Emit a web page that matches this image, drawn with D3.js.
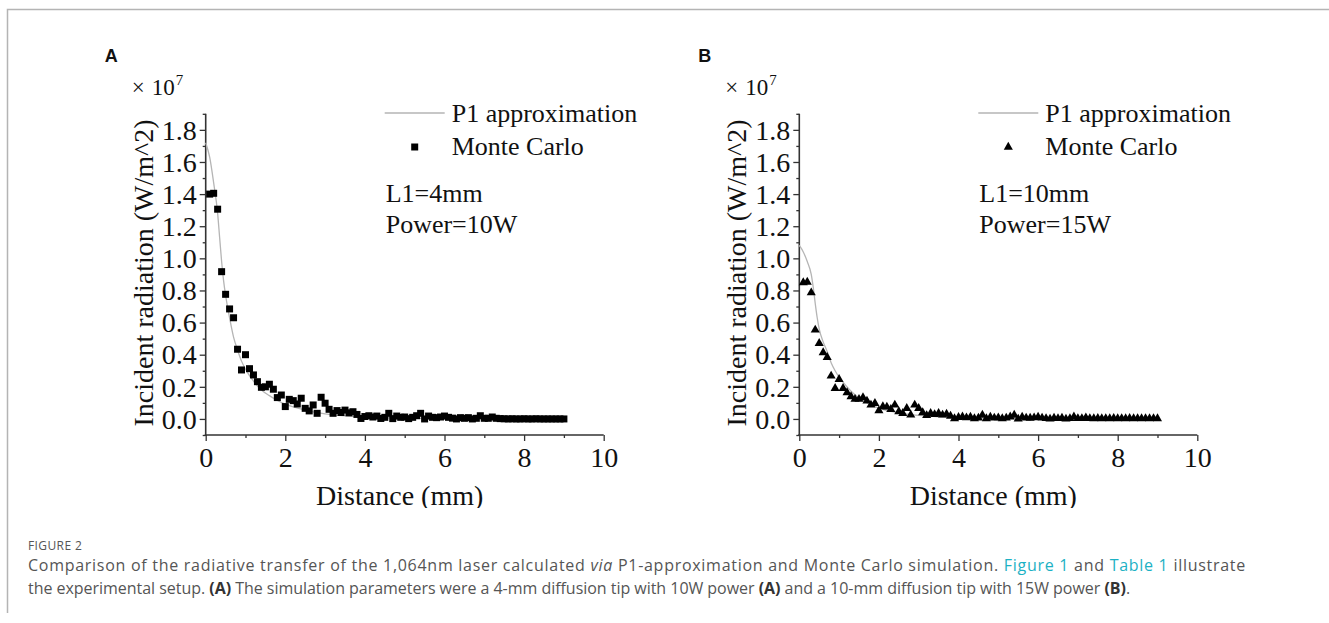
<!DOCTYPE html>
<html>
<head>
<meta charset="utf-8">
<script src="https://cdnjs.cloudflare.com/ajax/libs/d3/7.8.5/d3.min.js"></script>
<style>
    html, body { margin: 0; padding: 0; background: #fff; }
    svg { display: block; }
</style>
</head>
<body>
<svg id="fig" width="1329" height="623"></svg>
<script>
// radiative transfer figure - P1 vs Monte Carlo

// distance grid of the Monte Carlo samples (mm)
const mcDistance = [0.1, 0.2, 0.3, 0.4, 0.5, 0.6, 0.7, 0.8, 0.9, 1.0,
    1.1, 1.2, 1.3, 1.4, 1.5, 1.6, 1.7, 1.8, 1.9, 2.0,
    2.1, 2.2, 2.3, 2.4, 2.5, 2.6, 2.7, 2.8, 2.9, 3.0,
    3.1, 3.2, 3.3, 3.4, 3.5, 3.6, 3.7, 3.8, 3.9, 4.0,
    4.1, 4.2, 4.3, 4.4, 4.5, 4.6, 4.7, 4.8, 4.9, 5.0,
    5.1, 5.2, 5.3, 5.4, 5.5, 5.6, 5.7, 5.8, 5.9, 6.0,
    6.1, 6.2, 6.3, 6.4, 6.5, 6.6, 6.7, 6.8, 6.9, 7.0,
    7.1, 7.2, 7.3, 7.4, 7.5, 7.6, 7.7, 7.8, 7.9, 8.0,
    8.1, 8.2, 8.3, 8.4, 8.5, 8.6, 8.7, 8.8, 8.9, 9.0];

// panel A : L1=4mm, 10W (x 1e7 W/m^2)
const mcA = [1.400, 1.405, 1.306, 0.917, 0.776, 0.685, 0.630, 0.434, 0.305, 0.400,
    0.313, 0.274, 0.232, 0.197, 0.200, 0.216, 0.185, 0.133, 0.149, 0.077,
    0.122, 0.114, 0.093, 0.129, 0.066, 0.050, 0.087, 0.035, 0.135, 0.098,
    0.060, 0.035, 0.052, 0.040, 0.055, 0.038, 0.045, 0.028, 0.003, 0.015,
    0.020, 0.012, 0.018, 0.003, 0.010, 0.035, 0.002, 0.018, 0.010, 0.012,
    0.002, 0.010, 0.020, 0.035, 0.000, 0.018, 0.010, 0.008, 0.012, 0.018,
    0.010, 0.005, 0.000, 0.008, 0.004, 0.008, 0.000, 0.004, 0.020, 0.004,
    0.004, 0.012, 0.004, 0.002, 0.001, 0.000, 0.001, 0.000, 0.000, 0.001,
    0.000, 0.000, 0.001, 0.000, 0.000, 0.000, 0.000, 0.000, 0.000, 0.000];

// panel B : L1=10mm, 15W
const mcB = [0.849, 0.852, 0.786, 0.554, 0.471, 0.413, 0.384, 0.268, 0.191, 0.247,
    0.191, 0.164, 0.139, 0.123, 0.123, 0.133, 0.112, 0.087, 0.097, 0.052,
    0.077, 0.075, 0.060, 0.087, 0.046, 0.035, 0.066, 0.025, 0.087, 0.066,
    0.040, 0.022, 0.035, 0.028, 0.035, 0.025, 0.030, 0.018, 0.002, 0.010,
    0.013, 0.008, 0.012, 0.002, 0.006, 0.024, 0.002, 0.012, 0.006, 0.008,
    0.002, 0.006, 0.013, 0.024, 0.000, 0.012, 0.006, 0.005, 0.008, 0.012,
    0.006, 0.003, 0.000, 0.005, 0.003, 0.005, 0.000, 0.003, 0.013, 0.003,
    0.003, 0.008, 0.003, 0.002, 0.004, 0.002, 0.003, 0.002, 0.004, 0.002,
    0.003, 0.002, 0.004, 0.002, 0.003, 0.002, 0.003, 0.002, 0.003, 0.002];

// P1 approximation curves
const p1Distance = [0, 0.1, 0.2, 0.3, 0.35, 0.4, 0.45, 0.5, 0.6, 0.7, 0.8, 0.9, 1.0,
    1.2, 1.4, 1.6, 1.8, 2.0, 2.5, 3.0, 3.5, 4.0, 5.0, 6.0, 7.0, 8.0, 9.0];
const p1A = [1.72, 1.63, 1.47, 1.28, 1.13, 0.98, 0.86, 0.77, 0.63, 0.51, 0.43, 0.36, 0.31,
    0.235, 0.18, 0.145, 0.115, 0.092, 0.055, 0.032, 0.019, 0.011, 0.005, 0.002, 0.001, 0.0005, 0];
const p1B = [1.08, 1.04, 0.98, 0.90, 0.82, 0.72, 0.63, 0.56, 0.48, 0.42, 0.35, 0.30, 0.26,
    0.20, 0.15, 0.115, 0.088, 0.068, 0.038, 0.022, 0.013, 0.008, 0.003, 0.0015, 0.0007, 0.0003, 0];

// axis ticks
const xTicks = [0, 2, 4, 6, 8, 10];
const xMinor = [1, 3, 5, 7, 9];
const yTicks = [0, 0.2, 0.4, 0.6, 0.8, 1.0, 1.2, 1.4, 1.6, 1.8];
const yMinor = [-0.1, 0.1, 0.3, 0.5, 0.7, 0.9, 1.1, 1.3, 1.5, 1.7, 1.9];

const panels = [
    { tag: "A", left: 205.7, mc: mcA, p1: p1A, marker: d3.symbolSquare, size: 49, note: ["L1=4mm", "Power=10W"] },
    { tag: "B", left: 799.3, mc: mcB, p1: p1B, marker: d3.symbolTriangle, size: 36, note: ["L1=10mm", "Power=15W"] }
];

const serif = "'Liberation Serif', 'Times New Roman', serif";
const svg = d3.select("#fig");

// frame (top + left rule)
svg.append("path")
    .attr("d", "M7.5,613 V9.5 H1329")
    .attr("fill", "none")
    .attr("stroke", "#b4b4b4")
    .attr("stroke-width", 1.5);

const defs = svg.append("defs");
defs.append("clipPath").attr("id", "imgClip")
    .append("rect").attr("x", 0).attr("y", 0).attr("width", 1329).attr("height", 508);

function drawPanel(p) {
    const g = svg.append("g").attr("clip-path", "url(#imgClip)");

    const x = d3.scaleLinear().domain([0, 10]).range([p.left, p.left + 398]);
    const y = d3.scaleLinear().domain([-0.1, 1.9]).range([435, 113.8]);

    // x axis
    const xAxis = g.append("g").attr("transform", "translate(0,435)");
    xAxis.call(d3.axisBottom(x).tickValues(xTicks).tickSize(6).tickPadding(4).tickFormat(d3.format("d")));
    xAxis.append("g").call(d3.axisBottom(x).tickValues(xMinor).tickSize(3).tickFormat(""));
    xAxis.selectAll(".domain").remove();
    xAxis.append("line").attr("x1", x(0) - 1).attr("x2", x(10)).attr("stroke", "#333").attr("stroke-width", 1.6);

    // y axis
    const yAxis = g.append("g").attr("transform", `translate(${p.left},0)`);
    yAxis.call(d3.axisLeft(y).tickValues(yTicks).tickSize(6).tickPadding(3).tickFormat(d3.format(".1f")));
    yAxis.append("g").call(d3.axisLeft(y).tickValues(yMinor).tickSize(3).tickFormat(""));
    yAxis.selectAll(".domain").remove();
    yAxis.append("line").attr("y1", y(-0.1) + 1).attr("y2", y(1.9)).attr("stroke", "#333").attr("stroke-width", 1.6);

    g.selectAll(".tick line").attr("stroke", "#333").attr("stroke-width", 1.3);
    g.selectAll(".tick text").attr("fill", "#111").style("font-family", serif).style("font-size", "28px");
    xAxis.selectAll(".tick text").attr("dy", "0.78em");
    yAxis.selectAll(".tick text").attr("dy", "0.33em");

    // axis titles
    g.append("text")
        .attr("x", x(5) - 5).attr("y", 505)
        .attr("text-anchor", "middle")
        .style("font-family", serif).style("font-size", "28px").attr("fill", "#111")
        .text("Distance (mm)");
    g.append("text")
        .attr("transform", `translate(${p.left - 53},273) rotate(-90)`)
        .attr("text-anchor", "middle")
        .style("font-family", serif).style("font-size", "28px").attr("fill", "#111")
        .text("Incident radiation (W/m^2)");

    // x 10^7 multiplier
    const mult = g.append("text")
        .attr("x", p.left - 74).attr("y", 95)
        .style("font-family", serif).style("font-size", "23px").attr("fill", "#111");
    mult.append("tspan").text("×");
    mult.append("tspan").attr("dx", 7).text("10");
    mult.append("tspan").attr("dy", -10).attr("dx", 1).style("font-size", "15px").text("7");

    // panel tag
    svg.append("text")
        .attr("x", p.left - 101).attr("y", 62)
        .style("font-family", "'Liberation Sans', Arial, sans-serif")
        .style("font-weight", "bold").style("font-size", "18px").attr("fill", "#111")
        .text(p.tag);

    // P1 curve
    const line = d3.line()
        .x((d, i) => x(p1Distance[i]))
        .y(d => y(d))
        .curve(d3.curveMonotoneX);
    g.append("path")
        .datum(p.p1)
        .attr("d", line)
        .attr("fill", "none")
        .attr("stroke", "#b5b5b5")
        .attr("stroke-width", 1.3);

    // Monte Carlo markers
    const sym = d3.symbol().type(p.marker).size(p.size);
    g.selectAll(".mc")
        .data(p.mc)
        .enter()
        .append("path")
        .attr("class", "mc")
        .attr("transform", (d, i) => `translate(${x(mcDistance[i])},${y(d)})`)
        .attr("d", sym)
        .attr("fill", "#000");

    // legend
    const lx = p.left + 179;
    g.append("line")
        .attr("x1", lx).attr("x2", lx + 60).attr("y1", 113).attr("y2", 113)
        .attr("stroke", "#b5b5b5").attr("stroke-width", 1.3);
    g.append("path")
        .attr("transform", `translate(${lx + 30},147)`)
        .attr("d", sym).attr("fill", "#000");
    [["P1 approximation", 122], ["Monte Carlo", 155]].forEach(function (t) {
        g.append("text")
            .attr("x", lx + 67).attr("y", t[1])
            .style("font-family", serif).style("font-size", "26px").attr("fill", "#111")
            .text(t[0]);
    });

    // notes
    p.note.forEach(function (t, i) {
        g.append("text")
            .attr("x", lx + 1).attr("y", 202 + i * 31)
            .style("font-family", serif).style("font-size", "26px").attr("fill", "#111")
            .text(t);
    });
}

panels.forEach(drawPanel);

// caption
const capFont = "'Open Sans', Lato, sans-serif";
svg.append("text")
    .attr("x", 28).attr("y", 550)
    .style("font-family", capFont).style("font-size", "12px")
    .style("letter-spacing", "0.4px").attr("fill", "#555")
    .text("FIGURE 2");

const cap1 = svg.append("text")
    .attr("x", 28).attr("y", 571)
    .style("font-family", capFont).style("font-size", "16px").attr("fill", "#555");
cap1.append("tspan").text("Comparison of the radiative transfer of the 1,064nm laser calculated ");
cap1.append("tspan").style("font-style", "italic").text("via");
cap1.append("tspan").text(" P1-approximation and Monte Carlo simulation. ");
cap1.append("tspan").attr("fill", "#1cb1c4").text("Figure 1");
cap1.append("tspan").text(" and ");
cap1.append("tspan").attr("fill", "#1cb1c4").text("Table 1");
cap1.append("tspan").text(" illustrate");

const cap2 = svg.append("text")
    .attr("x", 28).attr("y", 594)
    .style("font-family", capFont).style("font-size", "16px").attr("fill", "#555");
cap2.append("tspan").text("the experimental setup. ");
cap2.append("tspan").style("font-weight", "bold").attr("fill", "#333").text("(A)");
cap2.append("tspan").text(" The simulation parameters were a 4-mm diffusion tip with 10W power ");
cap2.append("tspan").style("font-weight", "bold").attr("fill", "#333").text("(A)");
cap2.append("tspan").text(" and a 10-mm diffusion tip with 15W power ");
cap2.append("tspan").style("font-weight", "bold").attr("fill", "#333").text("(B)");
cap2.append("tspan").text(".");

// widen caption lines with letter spacing so they end where the figure's do
function fitLine(sel, target) {
    const w = sel.node().getComputedTextLength();
    const n = sel.text().length;
    sel.style("letter-spacing", ((target - w) / n).toFixed(3) + "px");
}
fitLine(cap1, 1218);
fitLine(cap2, 1102);
</script>
</body>
</html>
